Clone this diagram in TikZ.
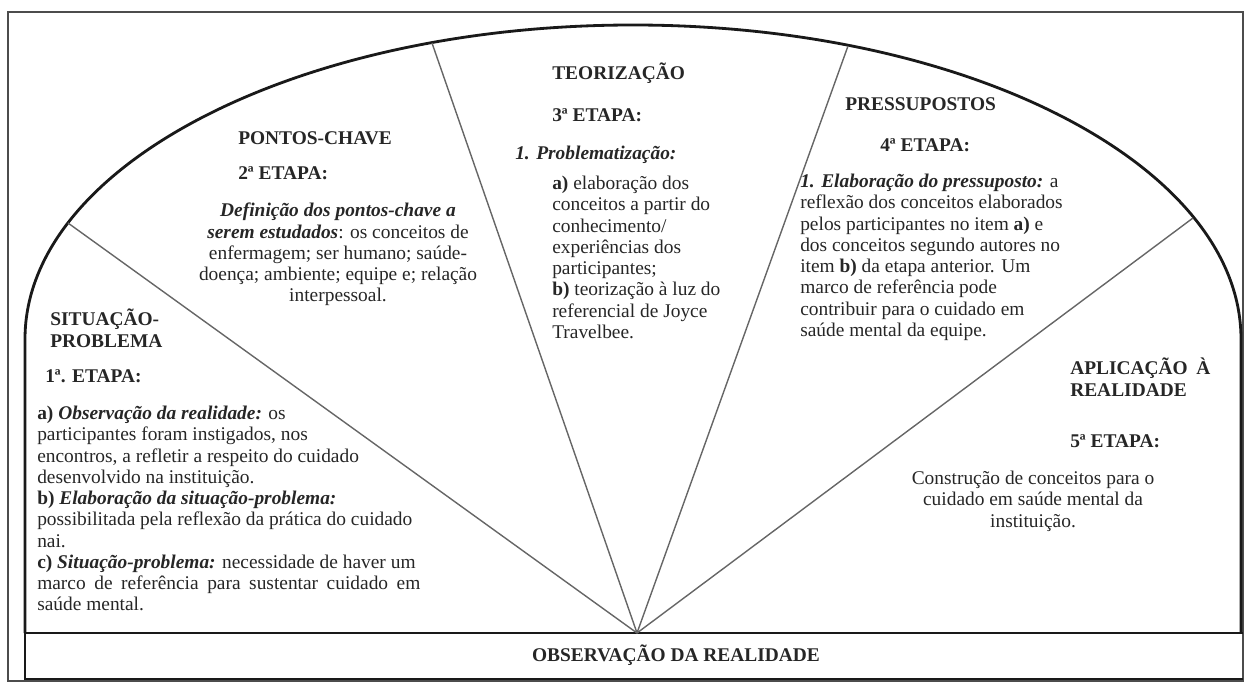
\documentclass[tikz,border=0pt]{standalone}
\usepackage{fontspec}
\setmainfont{Liberation Serif}
\newcommand{\destaque}[1]{\textbf{\textit{#1}}}
\begin{document}
\begin{tikzpicture}[x=0.025cm, y=-0.025cm,
	txt/.style={inner sep=0pt, anchor=north west, align=left, text=black!85, font=\fontsize{13.8}{15.1}\selectfont},
	titulo/.style={txt, font=\fontsize{13.8}{15.1}\selectfont\bfseries},
	centro/.style={txt, anchor=north, align=center},
	arco/.style={line width=2pt, black!90},
	raio/.style={line width=1pt, black!60},
	moldura/.style={line width=0.9pt, black!70}]

	\useasboundingbox (0,0) rectangle (1244,682);
	\draw[moldura] (8,12) rectangle (1243,681);

	% arco e base
	\draw[arco] (25,633) -- (25,339) arc[start angle=180, end angle=360, x radius=608, y radius=314] -- (1241,633);
	\draw[arco] (1243,633) -- (25,633) -- (25,679) -- (1243,679);

	\coordinate (o) at (637,633);
	\coordinate (e1) at (68,223);
	\coordinate (e2) at (432,43);
	\coordinate (e3) at (848,46);
	\coordinate (e4) at (1193,218);

	\draw[raio] (o) -- (e1);
	\draw[raio] (o) -- (e2);
	\draw[raio] (o) -- (e3);
	\draw[raio] (o) -- (e4);

	% 1a etapa
	\node (sit) [titulo] at (50,309) {SITUAÇÃO-\\PROBLEMA};
	\node (et1) [titulo] at (45,369) {1ª. ETAPA:};
	\node (par1) [txt] at (37,406) {\textbf{a)} \destaque{Observação da realidade:} os\\
		participantes foram instigados, nos\\
		encontros, a refletir a respeito do cuidado\\
		desenvolvido na instituição.\\
		\textbf{b)} \destaque{Elaboração da situação-problema:}\\
		possibilitada pela reflexão da prática do cuidado\\
		nai.\\
		\textbf{c)} \destaque{Situação-problema:} necessidade de haver um\\
		\makebox[9.575cm][s]{marco de referência para sustentar cuidado em}\\
		saúde mental.};

	% 2a etapa
	\node (pc) [titulo] at (238,131) {PONTOS-CHAVE};
	\node (et2) [titulo] at (238,166) {2ª ETAPA:};
	\node (par2) [centro] at (338,203) {\destaque{Definição dos pontos-chave a}\\
		\destaque{serem estudados}: os conceitos de\\
		enfermagem; ser humano; saúde-\\
		doença; ambiente; equipe e; relação\\
		interpessoal.};

	% 3a etapa
	\node (teo) [titulo] at (552,63) {TEORIZAÇÃO};
	\node (et3) [titulo] at (552,108) {3ª ETAPA:};
	\node (prob) [txt] at (515,146) {\destaque{1. Problematização:}};
	\node (par3) [txt] at (552,176) {\textbf{a)} elaboração dos\\
		conceitos a partir do\\
		conhecimento/\\
		experiências dos\\
		participantes;\\
		\textbf{b)} teorização à luz do\\
		referencial de Joyce\\
		Travelbee.};

	% 4a etapa
	\node (pres) [titulo] at (845,97) {PRESSUPOSTOS};
	\node (et4) [titulo] at (880,138) {4ª ETAPA:};
	\node (par4) [txt] at (800,174) {\destaque{1. Elaboração do pressuposto:} a\\
		reflexão dos conceitos elaborados\\
		pelos participantes no item \textbf{a)} e\\
		dos conceitos segundo autores no\\
		item \textbf{b)} da etapa anterior. Um\\
		marco de referência pode\\
		contribuir para o cuidado em\\
		saúde mental da equipe.};

	% 5a etapa
	\node (apl) [titulo] at (1070,358) {\makebox[3.5cm][s]{APLICAÇÃO À}\\REALIDADE};
	\node (et5) [titulo] at (1070,434) {5ª ETAPA:};
	\node (par5) [centro] at (1033,471) {Construção de conceitos para o\\
		cuidado em saúde mental da\\
		instituição.};

	\node (obs) [titulo, anchor=center] at (676,655) {OBSERVAÇÃO DA REALIDADE};

\end{tikzpicture}
\end{document}
